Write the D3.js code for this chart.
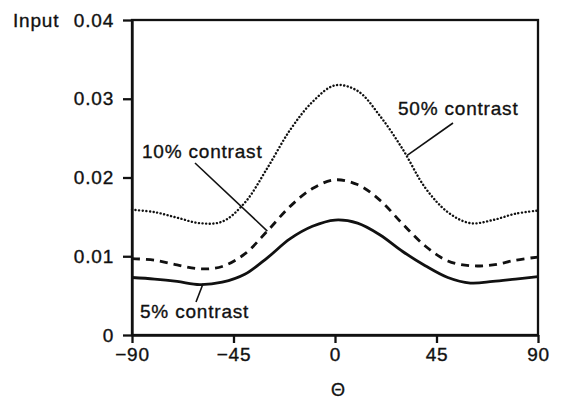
<!DOCTYPE html>
<html>
<head>
<meta charset="utf-8">
<script src="https://cdn.jsdelivr.net/npm/d3@7"></script>
<style>
  html, body { margin: 0; padding: 0; background: #fff; }
  text { font-family: "Liberation Sans", Arial, Helvetica, sans-serif; fill: #111; stroke: #111; stroke-width: 0.35px; }
</style>
</head>
<body>
<svg id="chart" width="562" height="402"></svg>
<script>
// ---- data ----
const theta = [-90, -80, -70, -60, -50, -40, -30, -20, -10, 0, 10, 20, 30, 40, 50, 60, 70, 80, 90];
const contrast50 = [0.0159, 0.0156, 0.0149, 0.0142, 0.0144, 0.0168, 0.0212, 0.0260, 0.0296, 0.0317, 0.0310, 0.0278, 0.0236, 0.0187, 0.0156, 0.0142, 0.0146, 0.0154, 0.0158];
const contrast10 = [0.0097, 0.0095, 0.0089, 0.0084, 0.0087, 0.0103, 0.0132, 0.0163, 0.0186, 0.0197, 0.0191, 0.0171, 0.0141, 0.0113, 0.0094, 0.0088, 0.0089, 0.0095, 0.0099];
const contrast5 = [0.0073, 0.0071, 0.0068, 0.0064, 0.0067, 0.0077, 0.0098, 0.0122, 0.0138, 0.0146, 0.0142, 0.0127, 0.0106, 0.0088, 0.0073, 0.0066, 0.0068, 0.0071, 0.0074];
const xTicks = [-90, -45, 0, 45, 90];
const xTickLabels = ["\u221290", "\u221245", "0", "45", "90"];
const yTicks = [0, 0.01, 0.02, 0.03, 0.04];
const yTickLabels = ["0", "0.01", "0.02", "0.03", "0.04"];
const seriesNames = ["50% contrast", "10% contrast", "5% contrast"];

// ---- layout ----
const W = 562, H = 402;
const margin = { left: 132, right: 24, top: 20, bottom: 67 };
const svg = d3.select("#chart");
svg.append("rect").attr("width", W).attr("height", H).attr("fill", "#fff").attr("stroke", "none");

const x = d3.scaleLinear().domain([-90, 90]).range([margin.left, W - margin.right]);
const y = d3.scaleLinear().domain([0, 0.04]).range([H - margin.bottom, margin.top]);

const ink = "#111";
const fontSize = 19, ls = "0.8px";

// frame
svg.append("rect")
  .attr("x", x(-90)).attr("y", y(0.04))
  .attr("width", x(90) - x(-90)).attr("height", y(0) - y(0.04))
  .attr("fill", "none").attr("stroke", ink).attr("stroke-width", 2.3);

// axes
const yAxis = d3.axisLeft(y).tickValues(yTicks)
  .tickFormat((d, i) => yTickLabels[i]).tickSize(9).tickPadding(9).tickSizeOuter(0);
const gy = svg.append("g").attr("transform", `translate(${x(-90)},0)`).call(yAxis);

const xAxis = d3.axisBottom(x).tickValues(xTicks)
  .tickFormat((d, i) => xTickLabels[i]).tickSize(8).tickPadding(5).tickSizeOuter(0);
const gx = svg.append("g").attr("transform", `translate(0,${y(0)})`).call(xAxis);

[gx, gy].forEach(g => {
  g.select(".domain").attr("stroke", ink).attr("stroke-width", 2.3);
  g.selectAll(".tick line").attr("stroke", ink).attr("stroke-width", 2.3);
  g.selectAll(".tick text")
    .attr("fill", ink).attr("stroke", ink).attr("stroke-width", 0.35)
    .style("font-size", fontSize + "px")
    .style("letter-spacing", ls)
    .style("font-family", '"Liberation Sans", Arial, sans-serif');
});

// axis titles
svg.append("text").attr("x", 13).attr("y", 27)
  .style("font-size", fontSize + "px").style("letter-spacing", ls).text("Input");
svg.append("text").attr("x", x(0) + 3).attr("y", 396).attr("text-anchor", "middle")
  .style("font-size", "18px").text("\u0398");

// lines
const line = d3.line()
  .x((d, i) => x(theta[i]))
  .y(d => y(d))
  .curve(d3.curveCatmullRom.alpha(0.5));

svg.append("path").datum(contrast50).attr("d", line)
  .attr("fill", "none").attr("stroke", ink).attr("stroke-width", 2.4)
  .attr("stroke-linecap", "round").attr("stroke-dasharray", "0.1 3.5");

svg.append("path").datum(contrast10).attr("d", line)
  .attr("fill", "none").attr("stroke", ink).attr("stroke-width", 2.8)
  .attr("stroke-dasharray", "8 6");

svg.append("path").datum(contrast5).attr("d", line)
  .attr("fill", "none").attr("stroke", ink).attr("stroke-width", 2.8);

// labels with leader lines
function label(txt, tx, ty, x1, y1, x2, y2) {
  svg.append("line").attr("x1", x1).attr("y1", y1).attr("x2", x2).attr("y2", y2)
    .attr("stroke", ink).attr("stroke-width", 1.6);
  svg.append("text").attr("x", tx).attr("y", ty)
    .style("font-size", fontSize + "px").style("letter-spacing", ls).text(txt);
}
// 50%: leader ends on the dotted curve near theta = 32
label(seriesNames[0], 398, 115, 453, 123, x(32), y(0.0228));
// 10%: leader ends on the dashed curve near theta = -30
label(seriesNames[1], 142, 158, 195, 163, x(-30), y(0.0132));
// 5%: leader ends on the solid curve near theta = -58
label(seriesNames[2], 140, 318, 196, 302, x(-58.5), y(0.0065));
</script>
</body>
</html>
